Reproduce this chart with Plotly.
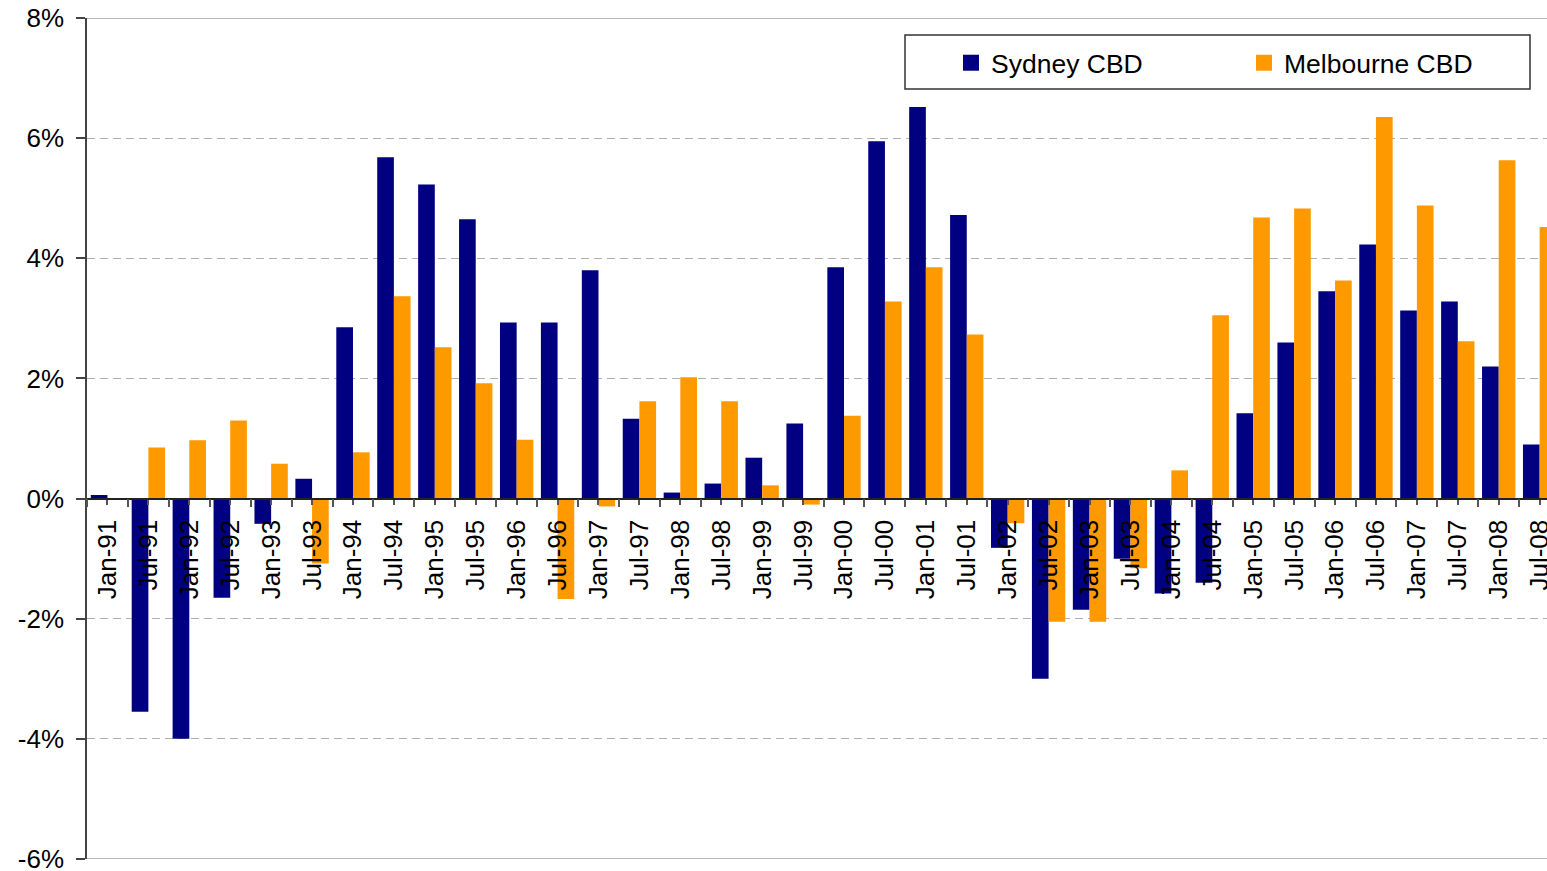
import plotly.graph_objects as go

categories = ["Jan-91","Jul-91","Jan-92","Jul-92","Jan-93","Jul-93","Jan-94","Jul-94","Jan-95","Jul-95",
              "Jan-96","Jul-96","Jan-97","Jul-97","Jan-98","Jul-98","Jan-99","Jul-99","Jan-00","Jul-00",
              "Jan-01","Jul-01","Jan-02","Jul-02","Jan-03","Jul-03","Jan-04","Jul-04","Jan-05","Jul-05",
              "Jan-06","Jul-06","Jan-07","Jul-07","Jan-08","Jul-08"]

sydney = [0.06, -3.55, -4.0, -1.65, -0.42, 0.33, 2.85, 5.68, 5.23, 4.65,
          2.93, 2.93, 3.80, 1.33, 0.10, 0.25, 0.68, 1.25, 3.85, 5.95,
          6.52, 4.72, -0.82, -3.00, -1.85, -1.00, -1.58, -1.40, 1.42, 2.60,
          3.45, 4.23, 3.13, 3.28, 2.20, 0.90]

melbourne = [0.0, 0.85, 0.97, 1.30, 0.58, -1.08, 0.77, 3.37, 2.52, 1.92,
             0.98, -1.67, -0.13, 1.62, 2.02, 1.62, 0.22, -0.10, 1.38, 3.28,
             3.85, 2.73, -0.41, -2.05, -2.05, -1.16, 0.47, 3.05, 4.68, 4.83,
             3.63, 6.35, 4.88, 2.62, 5.63, 4.52]

y_ticks = [-6, -4, -2, 0, 2, 4, 6, 8]
y_tick_labels = ["-6%", "-4%", "-2%", "0%", "2%", "4%", "6%", "8%"]

NAVY = "#000080"
ORANGE = "#FF9900"
FONT = "Liberation Sans, Arial, sans-serif"

fig = go.Figure()
fig.add_trace(go.Bar(x=categories, y=sydney, name="Sydney CBD", marker=dict(color=NAVY, line=dict(width=0)),
                     showlegend=False))
fig.add_trace(go.Bar(x=categories, y=melbourne, name="Melbourne CBD", marker=dict(color=ORANGE, line=dict(width=0)),
                     showlegend=False))
# legend entries with larger square symbols
fig.add_trace(go.Scatter(x=[None], y=[None], mode="markers", name="Sydney CBD",
                         marker=dict(symbol="square", size=16, color=NAVY)))
fig.add_trace(go.Scatter(x=[None], y=[None], mode="markers", name="Melbourne CBD",
                         marker=dict(symbol="square", size=16, color=ORANGE)))
# invisible trace carrying the secondary (category-centre) tick axis
fig.add_trace(go.Scatter(x=categories, y=[None] * len(categories), mode="markers",
                         xaxis="x2", showlegend=False, hoverinfo="skip"))

W, H = 1547, 871
ml, mr, mt, mb = 87, 0, 18, 12
pw, ph = W - ml - mr, H - mt - mb

def px_x(x):
    return (x - ml) / pw

def px_y(y):
    return (H - mb - y) / ph

Y_MIN, Y_MAX = -6.0, 8.0
X_RANGE = [-0.5, 35.18]
ZERO_POS = (0 - Y_MIN) / (Y_MAX - Y_MIN)

fig.update_layout(
    width=W, height=H, autosize=False,
    margin=dict(l=ml, r=mr, t=mt, b=mb, autoexpand=False),
    paper_bgcolor="white", plot_bgcolor="white",
    barmode="group", bargap=0.185, bargroupgap=0.0,
    font=dict(family=FONT, size=26, color="black"),
    xaxis=dict(
        type="category", range=X_RANGE, automargin=False,
        anchor="free", position=ZERO_POS,
        showline=True, linecolor="#222222", linewidth=1.5,
        ticks="outside", tickson="boundaries", ticklen=8, tickcolor="#555555", tickwidth=1.5,
        ticklabelstandoff=10,
        tickangle=-90, tickfont=dict(family=FONT, size=26, color="black"),
        showgrid=False, zeroline=False,
    ),
    xaxis2=dict(
        type="category", matches="x", overlaying="x", automargin=False,
        anchor="free", position=ZERO_POS,
        showline=False, showticklabels=False,
        ticks="outside", ticklen=5, tickcolor="#555555", tickwidth=1.5,
        showgrid=False, zeroline=False,
    ),
    yaxis=dict(
        range=[Y_MIN, Y_MAX], tickvals=y_ticks, ticktext=y_tick_labels, automargin=False,
        showline=True, linecolor="#444444", linewidth=1.5,
        ticks="outside", ticklen=9, tickcolor="#444444", tickwidth=1.5,
        ticklabelstandoff=7, ticklabeloverflow="allow",
        tickfont=dict(family=FONT, size=26, color="black"),
        showgrid=True, gridcolor="#B0B0B0", gridwidth=1, griddash="8px,5px",
        zeroline=False,
    ),
    legend=dict(
        orientation="h", x=px_x(951), xanchor="left", y=px_y(63), yanchor="middle",
        bgcolor="rgba(0,0,0,0)", borderwidth=0,
        font=dict(family=FONT, size=26.5, color="black"),
        entrywidth=248, itemclick=False,
    ),
    shapes=[
        dict(type="line", xref="paper", yref="y", x0=0, x1=1, y0=Y_MAX, y1=Y_MAX,
             line=dict(color="#A0A0A0", width=1.5), layer="above"),
        dict(type="line", xref="paper", yref="y", x0=0, x1=1, y0=Y_MIN, y1=Y_MIN,
             line=dict(color="#A0A0A0", width=1.5), layer="above"),
        dict(type="rect", xref="paper", yref="paper", x0=px_x(905), x1=px_x(1530), y0=px_y(89), y1=px_y(35),
             line=dict(color="#333333", width=1.5), fillcolor="white", layer="below"),
    ],
)

fig.write_html("out.html", config={"displayModeBar": False},
               post_script="document.body.style.margin='0';document.body.style.overflow='hidden';")
